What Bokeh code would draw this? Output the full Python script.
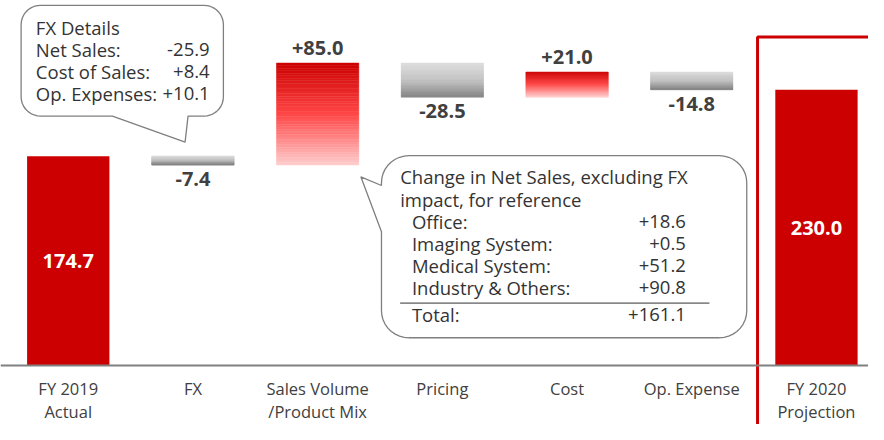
import numpy as np
from bokeh.plotting import figure
from bokeh.models import LinearAxis, FixedTicker, ColumnDataSource
from bokeh.embed import file_html
from bokeh.resources import INLINE
from bokeh.core.properties import value

# ---------------- data ----------------
categories = ["FY 2019\nActual", "FX", "Sales Volume\n/Product Mix", "Pricing",
              "Cost", "Op. Expense", "FY 2020\nProjection"]
changes = [174.7, -7.4, 85.0, -28.5, 21.0, -14.8, 230.0]
kinds = ["total", "delta", "delta", "delta", "delta", "delta", "total"]
value_labels = ["174.7", "-7.4", "+85.0", "-28.5", "+21.0", "-14.8", "230.0"]

fx_title = "FX Details"
fx_items = ["Net Sales:", "Cost of Sales:", "Op. Expenses:"]
fx_values = ["-25.9", "+8.4", "+10.1"]

seg_title = ["Change in Net Sales, excluding FX", "impact, for reference"]
seg_items = ["Office:", "Imaging System:", "Medical System:", "Industry & Others:"]
seg_values = ["+18.6", "+0.5", "+51.2", "+90.8"]
seg_total_label = "Total:"
seg_total = "+161.1"

# ---------------- layout ----------------
W, H = 868, 424
KX, KY = W / 884.0, H / 440.0     # reference px -> canvas px
PX_X = 127.0 * KX                 # canvas pixels per category
X0 = 69.0 * KX                    # canvas px of category 0
PX_Y = 1.245 * KY                 # canvas pixels per unit
BASE = 379.0 * KY                 # canvas px of value 0
x_start = -X0 / PX_X
x_end = x_start + W / PX_X
y_end = BASE / PX_Y
y_start = -(H - BASE) / PX_Y

def sx(px):  # reference x -> data x
    return x_start + px * KX / PX_X

def sy(py):  # reference y -> data y
    return (BASE - py * KY) / PX_Y

FONT = "Open Sans"
TXT = "#404040"
RED = "#CC0000"

p = figure(width=W, height=H, output_backend="svg", toolbar_location=None,
           x_range=(x_start, x_end), y_range=(y_start, y_end),
           x_axis_location=None, y_axis_location=None,
           min_border=0, outline_line_color=None, background_fill_color="white")
p.grid.visible = False

# ---------------- bars ----------------
def lerp_stops(stops, t):
    for (p0, c0), (p1, c1) in zip(stops[:-1], stops[1:]):
        if p0 <= t <= p1:
            f = (t - p0) / (p1 - p0) if p1 > p0 else 0
            c = [int(round(a + (b - a) * f)) for a, b in zip(c0, c1)]
            return "#%02x%02x%02x" % tuple(c)
    return "#%02x%02x%02x" % stops[-1][1]

red_stops = [(0.0, (204, 0, 0)), (0.5, (255, 70, 70)), (1.0, (255, 205, 205))]
gray_stops = [(0.0, (222, 222, 222)), (0.55, (190, 190, 190)), (1.0, (128, 128, 128))]

BW = 0.66
running = 0.0
solid = dict(left=[], right=[], top=[], bottom=[])
grad = dict(left=[], right=[], top=[], bottom=[], color=[])
lab = dict(x=[], y=[], text=[], yoff=[], color=[])
N = 40
for i, (c, k, t) in enumerate(zip(changes, kinds, value_labels)):
    if k == "total":
        running = c
        solid["left"].append(i - BW / 2); solid["right"].append(i + BW / 2)
        solid["bottom"].append(0); solid["top"].append(c)
        lab["x"].append(i); lab["y"].append(c / 2); lab["text"].append(t)
        lab["yoff"].append(0); lab["color"].append("white")
    else:
        start, end = running, running + c
        running = end
        top, bot = max(start, end), min(start, end)
        stops = red_stops if c > 0 else gray_stops
        for j in range(N):
            y_hi = top - (top - bot) * j / N
            y_lo = top - (top - bot) * (j + 1) / N
            grad["left"].append(i - BW / 2); grad["right"].append(i + BW / 2)
            grad["top"].append(y_hi); grad["bottom"].append(y_lo)
            grad["color"].append(lerp_stops(stops, (j + 0.5) / N))
        lab["x"].append(i)
        if c > 0:
            lab["y"].append(top); lab["yoff"].append(-15)
        else:
            lab["y"].append(bot); lab["yoff"].append(14)
        lab["text"].append(t); lab["color"].append(TXT)

p.quad(source=ColumnDataSource(solid), left="left", right="right", top="top",
       bottom="bottom", fill_color=RED, line_color=None)
p.quad(source=ColumnDataSource(grad), left="left", right="right", top="top",
       bottom="bottom", fill_color="color", line_color="color", line_width=0.5)

p.text(source=ColumnDataSource(lab), x="x", y="y", text="text", y_offset="yoff",
       text_color="color", text_font=value(FONT), text_font_style="bold",
       text_font_size="20px", text_align="center", text_baseline="middle")

# ---------------- axis ----------------
ax = LinearAxis(fixed_location=0)
ax.ticker = FixedTicker(ticks=list(range(len(categories))))
ax.major_label_overrides = {i: c for i, c in enumerate(categories)}
ax.axis_line_color = "#808080"
ax.axis_line_width = 2
ax.major_tick_line_color = None
ax.minor_tick_line_color = None
ax.major_label_text_font = FONT
ax.major_label_text_font_size = "16.5px"
ax.major_label_text_color = TXT
ax.major_label_text_line_height = 1.0
ax.major_label_standoff = 5
p.add_layout(ax, "below")

# ---------------- highlight box ----------------
p.line([sx(771), sx(771), sx(905)], [sy(460), sy(38), sy(38)],
       line_color=RED, line_width=3)

# ---------------- callouts ----------------
def callout(x0, y0, x1, y1, r, side, ta, tb, tip):
    pts = []
    def arc(cx, cy, a0, a1):
        for a in np.linspace(np.radians(a0), np.radians(a1), 10):
            pts.append((cx + r * np.cos(a), cy + r * np.sin(a)))
    arc(x0 + r, y0 + r, 180, 270)
    arc(x1 - r, y0 + r, 270, 360)
    arc(x1 - r, y1 - r, 0, 90)
    if side == "bottom":
        pts += [(tb, y1), tip, (ta, y1)]
    arc(x0 + r, y1 - r, 90, 180)
    if side == "left":
        pts += [(x0, tb), tip, (x0, ta)]
    xs = [sx(a) for a, b in pts]
    ys = [sy(b) for a, b in pts]
    p.patch(xs, ys, fill_color="white", line_color="#7F7F7F", line_width=1.3)

callout(21, 5, 227, 120, 20, "bottom", 114, 191, (188, 147))
callout(388, 161, 760, 350, 28, "left", 192, 240, (367, 183))

txt_kw = dict(text_font=value(FONT), text_font_size="18.5px", text_color="#333333",
              text_baseline="middle")

# FX details
fx_rows = [28, 51, 74, 97]
p.text(x=[sx(36)], y=[sy(fx_rows[0])], text=[fx_title], **txt_kw)
p.text(x=[sx(36)] * 3, y=[sy(v) for v in fx_rows[1:]], text=fx_items, **txt_kw)
p.text(x=[sx(213)] * 3, y=[sy(v) for v in fx_rows[1:]], text=fx_values,
       text_align="right", **txt_kw)

# segment details
p.text(x=[sx(407)] * 2, y=[sy(183), sy(206)], text=seg_title, **txt_kw)
seg_rows = [229, 252, 275, 298]
p.text(x=[sx(419)] * 4, y=[sy(v) for v in seg_rows], text=seg_items, **txt_kw)
p.text(x=[sx(698)] * 4, y=[sy(v) for v in seg_rows], text=seg_values,
       text_align="right", **txt_kw)
p.line([sx(407), sx(722)], [sy(314), sy(314)], line_color="#333333", line_width=1)
p.text(x=[sx(419)], y=[sy(326)], text=[seg_total_label], **txt_kw)
p.text(x=[sx(698)], y=[sy(326)], text=[seg_total], text_align="right", **txt_kw)

open("out.html", "w").write(file_html(p, INLINE))
